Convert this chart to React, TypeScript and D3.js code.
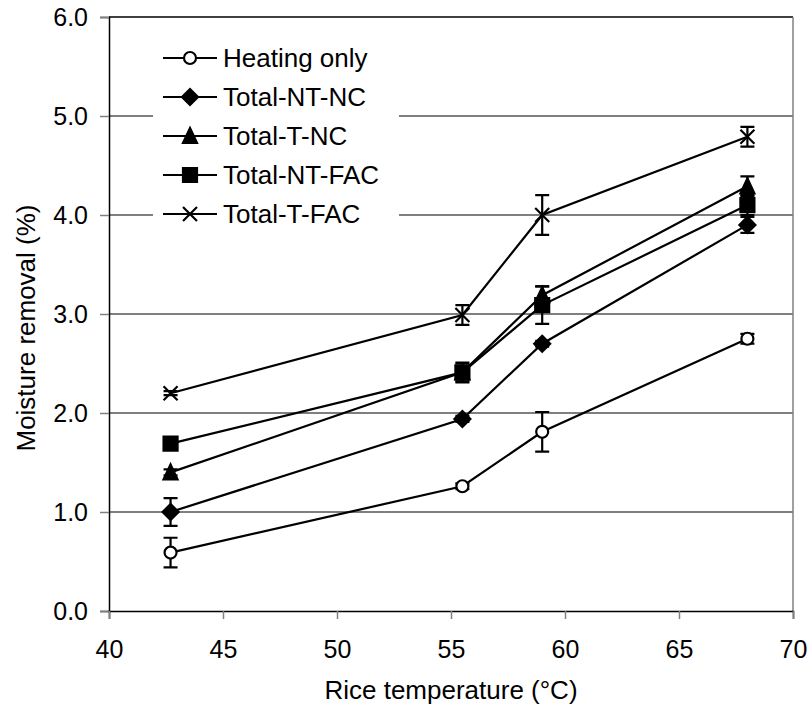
import React, { useEffect, useRef } from 'react';
import * as d3 from 'd3';

// Rice temperature (°C) for every treatment
const temps = [42.7, 55.5, 59.0, 68.0];

const seriesNames = ['Heating only', 'Total-NT-NC', 'Total-T-NC', 'Total-NT-FAC', 'Total-T-FAC'];
const seriesMarkers = ['circle', 'diamond', 'triangle', 'square', 'cross'];

// Moisture removal (%) and error (±)
const heatingOnly = [0.59, 1.26, 1.81, 2.75];
const heatingOnlyErr = [0.15, 0.03, 0.2, 0.05];
const totalNTNC = [1.0, 1.94, 2.7, 3.9];
const totalNTNCErr = [0.14, 0.03, 0.03, 0.08];
const totalTNC = [1.4, 2.41, 3.19, 4.29];
const totalTNCErr = [0.03, 0.1, 0.09, 0.1];
const totalNTFAC = [1.69, 2.41, 3.09, 4.1];
const totalNTFACErr = [0.03, 0.09, 0.19, 0.1];
const totalTFAC = [2.2, 2.99, 4.0, 4.79];
const totalTFACErr = [0.02, 0.1, 0.2, 0.1];

const seriesValues = [heatingOnly, totalNTNC, totalTNC, totalNTFAC, totalTFAC];
const seriesErrors = [heatingOnlyErr, totalNTNCErr, totalTNCErr, totalNTFACErr, totalTFACErr];

const xTicks = [40, 45, 50, 55, 60, 65, 70];
const yTicks = [0, 1, 2, 3, 4, 5, 6];

const width = 809;
const height = 708;
const font = 'Liberation Sans, Arial, sans-serif';

// marker outline centred on 0,0
const markerPath = (type: string, s: number) => {
  const h = s / 2;
  switch (type) {
    case 'circle':
      return d3.symbol().type(d3.symbolCircle).size(Math.PI * (h - 1) * (h - 1))();
    case 'diamond':
      return `M0,${-h - 1}L${h + 1},0L0,${h + 1}L${-h - 1},0Z`;
    case 'triangle':
      return `M0,${-h - 1}L${h},${h}L${-h},${h}Z`;
    case 'square':
      return `M${-h},${-h}H${h}V${h}H${-h}Z`;
    default:
      return `M${-h},${-h}L${h},${h}M${-h},${h}L${h},${-h}`;
  }
};

const drawMarker = (g: any, type: string, x: number, y: number) => {
  const p = g.append('path')
    .attr('d', markerPath(type, 14))
    .attr('transform', `translate(${x},${y})`)
    .attr('stroke', 'black')
    .attr('stroke-width', 2.2);
  if (type === 'circle') p.attr('fill', 'white');
  else if (type === 'cross') p.attr('fill', 'none');
  else p.attr('fill', 'black');
};

const App = () => {
  const svgRef = useRef<SVGSVGElement>(null);

  useEffect(() => {
    const svg = d3.select(svgRef.current);
    svg.selectAll('*').remove();

    const x = d3.scaleLinear().domain([40, 70]).range([109, 793]);
    const y = d3.scaleLinear().domain([0, 6]).range([611, 17]);

    // grid lines
    svg.append('g')
      .selectAll('line')
      .data(yTicks.slice(1, -1))
      .enter()
      .append('line')
      .attr('x1', x(40))
      .attr('x2', x(70))
      .attr('y1', (d) => y(d))
      .attr('y2', (d) => y(d))
      .attr('stroke', '#555')
      .attr('stroke-width', 1.3);

    // plot border: top black, right grey
    svg.append('line')
      .attr('x1', x(40)).attr('x2', x(70))
      .attr('y1', y(6)).attr('y2', y(6))
      .attr('stroke', 'black').attr('stroke-width', 1.5);
    svg.append('line')
      .attr('x1', x(70)).attr('x2', x(70))
      .attr('y1', y(6)).attr('y2', y(0))
      .attr('stroke', '#808080').attr('stroke-width', 1.5);

    // y axis
    const yAxis = svg.append('g')
      .attr('transform', `translate(${x(40)},0)`)
      .call(d3.axisLeft(y).tickValues(yTicks).tickSize(9).tickPadding(12).tickFormat(d3.format('.1f')));
    yAxis.select('.domain').attr('stroke', 'black').attr('stroke-width', 1.5);
    yAxis.selectAll('.tick line').attr('stroke', '#808080').attr('stroke-width', 1.5);
    yAxis.selectAll('text').attr('font-family', font).attr('font-size', 25).attr('fill', 'black');

    // x axis
    const xAxis = svg.append('g')
      .attr('transform', `translate(0,${y(0)})`)
      .call(d3.axisBottom(x).tickValues(xTicks).tickSize(8).tickPadding(21));
    xAxis.select('.domain').attr('stroke', 'black').attr('stroke-width', 1.5);
    xAxis.selectAll('.tick line').attr('stroke', '#808080').attr('stroke-width', 1.5);
    xAxis.selectAll('text').attr('font-family', font).attr('font-size', 25).attr('fill', 'black');

    // axis titles
    svg.append('text')
      .attr('x', (x(40) + x(70)) / 2)
      .attr('y', 699)
      .attr('text-anchor', 'middle')
      .attr('font-family', font)
      .attr('font-size', 26)
      .text('Rice temperature (°C)');
    svg.append('text')
      .attr('transform', `translate(35,328) rotate(-90)`)
      .attr('text-anchor', 'middle')
      .attr('font-family', font)
      .attr('font-size', 26)
      .text('Moisture removal (%)');

    // legend (white box hides grid lines)
    const legend = svg.append('g');
    legend.append('rect')
      .attr('x', 153).attr('y', 30).attr('width', 246).attr('height', 205)
      .attr('fill', 'white');
    seriesNames.forEach((name, i) => {
      const ly = 58 + i * 39;
      legend.append('line')
        .attr('x1', 163).attr('x2', 217).attr('y1', ly).attr('y2', ly)
        .attr('stroke', 'black').attr('stroke-width', 2.2);
      drawMarker(legend, seriesMarkers[i], 190, ly);
      legend.append('text')
        .attr('x', 223).attr('y', ly + 9)
        .attr('font-family', font)
        .attr('font-size', 26)
        .text(name);
    });

    // series
    const line = d3.line<number>()
      .x((_, i) => x(temps[i]))
      .y((d) => y(d));

    seriesValues.forEach((vals, s) => {
      const g = svg.append('g');
      g.append('path')
        .attr('d', line(vals))
        .attr('fill', 'none')
        .attr('stroke', 'black')
        .attr('stroke-width', 2.2);

      vals.forEach((v, i) => {
        const e = seriesErrors[s][i];
        const cx = x(temps[i]);
        g.append('path')
          .attr('d', `M${cx},${y(v - e)}V${y(v + e)}M${cx - 7},${y(v - e)}H${cx + 7}M${cx - 7},${y(v + e)}H${cx + 7}`)
          .attr('stroke', 'black')
          .attr('stroke-width', 2.2)
          .attr('fill', 'none');
        drawMarker(g, seriesMarkers[s], cx, y(v));
      });
    });
  }, []);

  return (
    <div style={{ position: 'absolute', left: 0, top: 0 }}>
      <svg ref={svgRef} width={width} height={height} style={{ display: 'block', background: 'white' }} />
    </div>
  );
};

export default App;
